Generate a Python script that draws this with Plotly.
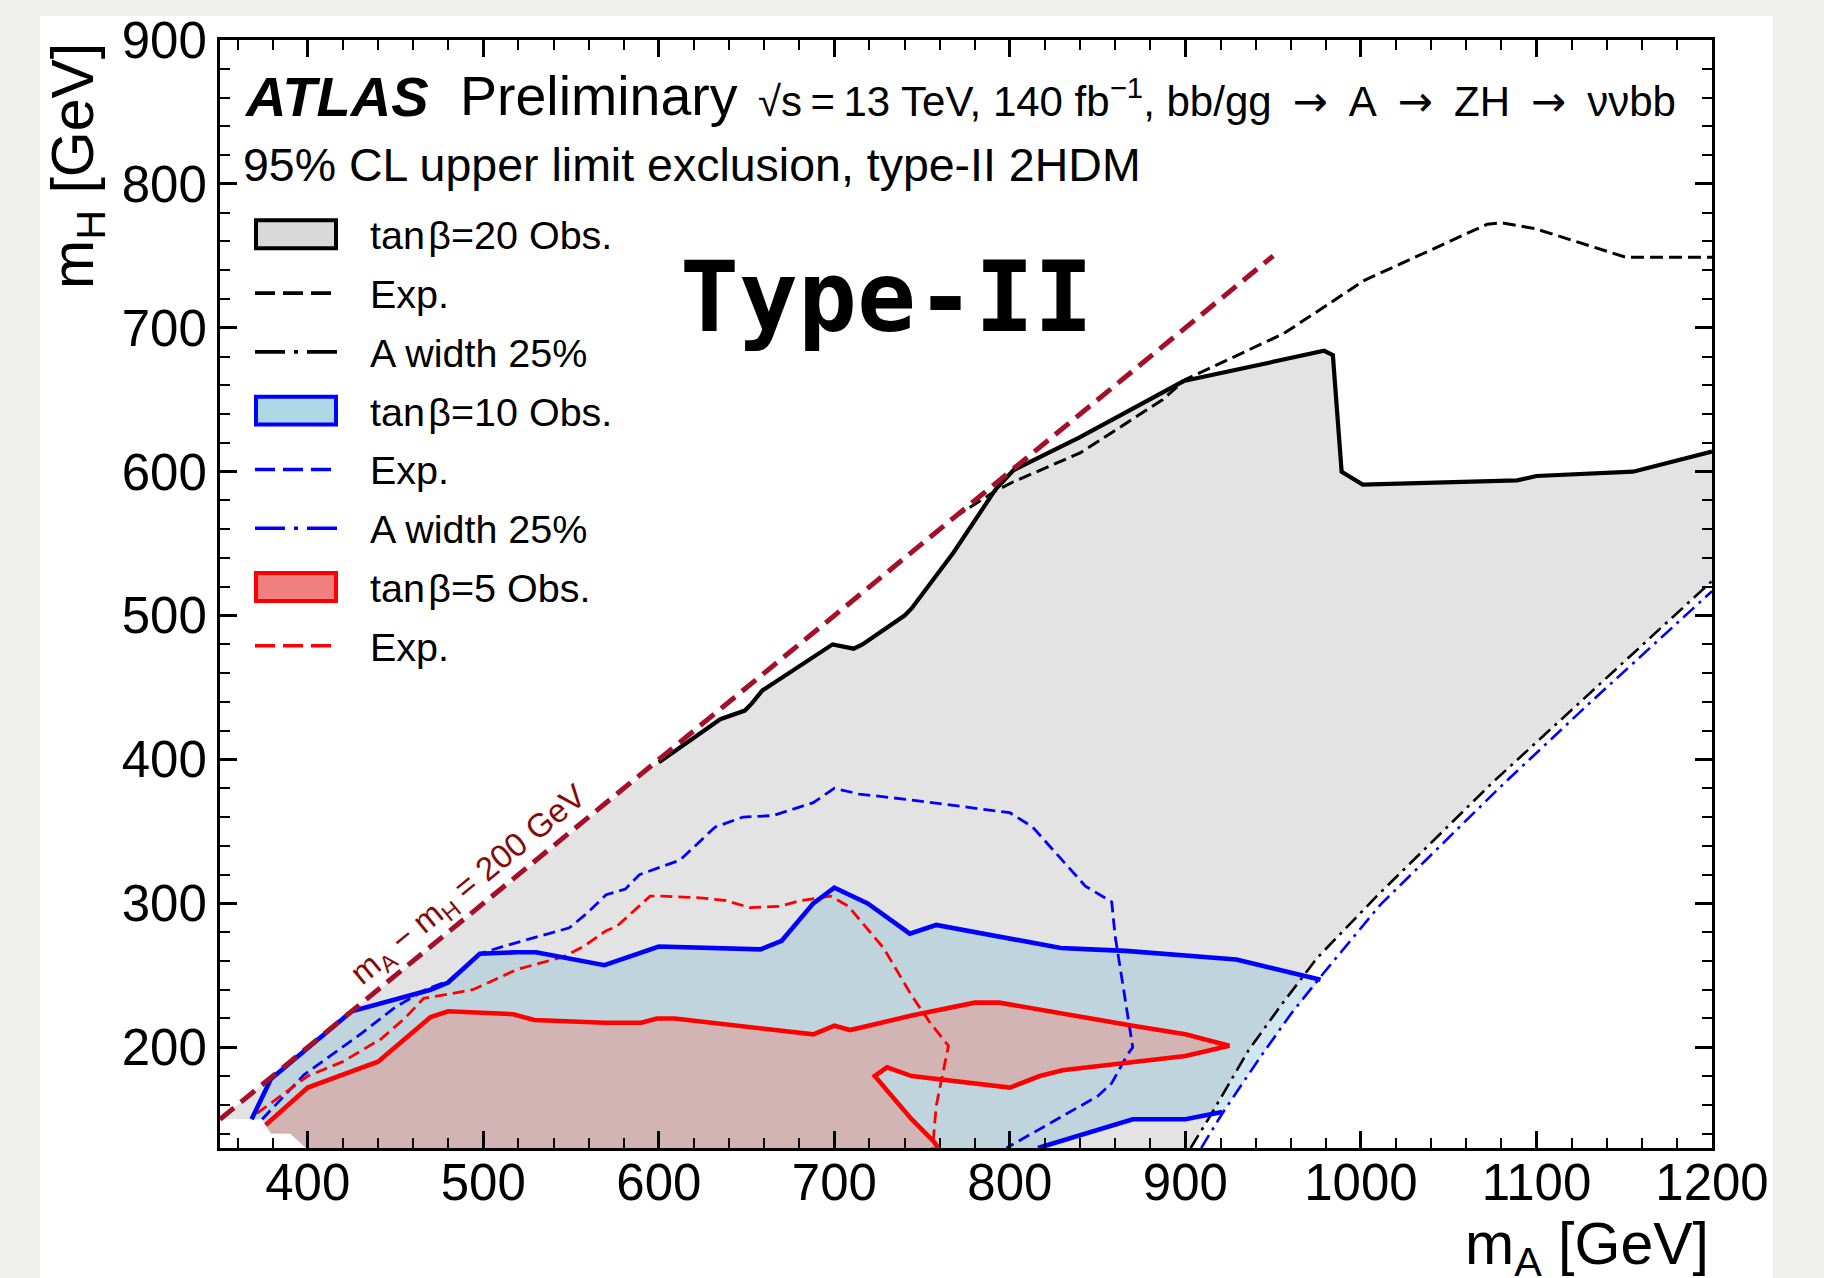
import plotly.graph_objects as go

# ---------------- data (GeV) ----------------
diag_x = [350, 950]
diag_y = [150, 750]

obs20_x = [600, 635, 649, 653, 659, 699, 711, 716, 740, 744, 768, 792, 802, 840, 899, 979, 984, 989, 1001, 1089, 1100, 1155, 1200]
obs20_y = [398, 428, 434, 439, 448, 480, 477, 480, 500, 505, 544, 588, 601, 624, 663, 684, 681, 600, 591, 594, 597, 600, 614]

exp20_x = [768, 791, 802, 817, 840, 887, 900, 956, 1002, 1072, 1080, 1099, 1151, 1200]
exp20_y = [568, 586, 593, 601, 613, 650, 664, 696, 733, 772, 773, 769, 749, 749]

w20_x = [903, 914, 936, 955, 975, 1009, 1075, 1125, 1200]
w20_y = [130, 152, 198, 230, 262, 305, 384, 440, 524]

w10_x = [909, 921, 942, 960, 979, 1011, 1082, 1131, 1200]
w10_y = [130, 154, 192, 223, 252, 299, 384, 440, 517]

obs10_up_x = [368, 379, 425, 470, 480, 498, 519, 530, 569, 600, 658, 670, 688, 700, 719, 743, 758, 829, 846, 866, 929, 977]
obs10_up_y = [150, 178, 225, 240, 245, 265, 266, 266, 257, 270, 268, 274, 300, 311, 300, 279, 285, 269, 268, 267, 261, 247]
obs10_lo_x = [921, 900, 870, 816]
obs10_lo_y = [155, 150, 150, 130]

exp10_x = [374, 398, 431, 450, 467, 480, 498, 511, 549, 559, 570, 581, 589, 612, 632, 648, 665, 688, 700, 714, 743, 800, 813, 843, 858, 860, 870, 867, 858, 850, 798]
exp10_y = [150, 181, 210, 228, 240, 246, 265, 270, 283, 293, 306, 310, 320, 330, 353, 360, 361, 370, 380, 376, 372, 363, 353, 312, 301, 277, 200, 195, 175, 166, 130]

obs5_x = [376, 400, 440, 470, 480, 499, 517, 529, 569, 590, 599, 609, 688, 700, 709, 744, 780, 794, 817, 870, 900, 910, 925, 900, 830, 817, 800, 744, 730, 723, 744, 757, 759]
obs5_y = [146, 172, 190, 221, 225, 224, 223, 219, 217, 217, 220, 220, 209, 215, 212, 222, 231, 231, 226, 215, 209, 206, 201, 194, 184, 180, 172, 180, 186, 180, 150, 134, 130]

exp5_x = [371, 400, 420, 442, 456, 466, 476, 494, 519, 546, 557, 570, 576, 595, 602, 622, 638, 652, 669, 681, 698, 708, 728, 744, 754, 765, 758, 756]
exp5_y = [154, 180, 190, 206, 221, 234, 236, 240, 254, 263, 270, 281, 284, 305, 305, 304, 302, 297, 298, 302, 305, 298, 269, 236, 218, 201, 159, 130]

# lower-left corner of the excluded regions (white notch)
notch_x = [399, 390, 379, 374]
notch_y = [130, 140, 140, 150]

x_ticks = [400, 500, 600, 700, 800, 900, 1000, 1100, 1200]
y_ticks = [200, 300, 400, 500, 600, 700, 800, 900]

legend_labels = ["tan\u200aβ=20 Obs.", "Exp.", "A width 25%", "tan\u200aβ=10 Obs.",
                 "Exp.", "A width 25%", "tan\u200aβ=5 Obs.", "Exp."]

# ---------------- geometry ----------------
W, H = 1824, 1278
ML, MR, MT, MB = 220, 112, 36, 130
PW, PH = W - ML - MR, H - MT - MB
FONT = "Liberation Sans, Arial, sans-serif"


def px(p):
    return (p - ML) / PW


def py(p):
    return (H - MB - p) / PH


GRAY = "rgb(227,227,227)"
BLUE_FILL = "rgba(137,189,216,0.38)"
RED_FILL = "rgb(211,180,180)"
DARKRED = "rgb(165,15,40)"

fig = go.Figure()

# gray region (tan beta = 20)
gx = [diag_x[0]] + obs20_x + w20_x[::-1] + notch_x
gy = [diag_y[0]] + obs20_y + w20_y[::-1] + notch_y
fig.add_trace(go.Scatter(x=gx, y=gy, fill="toself", fillcolor=GRAY, mode="lines",
                         line=dict(width=0), hoverinfo="skip", showlegend=False))

# blue region (tan beta = 10)
side = [(a, b) for a, b in zip(w10_x, w10_y) if obs10_lo_y[0] < b < obs10_up_y[-1]][::-1]
bx = obs10_up_x + [p[0] for p in side] + obs10_lo_x + notch_x
by = obs10_up_y + [p[1] for p in side] + obs10_lo_y + notch_y
fig.add_trace(go.Scatter(x=bx, y=by, fill="toself", fillcolor=BLUE_FILL, mode="lines",
                         line=dict(width=0), hoverinfo="skip", showlegend=False))

# red region (tan beta = 5)
rx = obs5_x + notch_x[:3]
ry = obs5_y + notch_y[:3]
fig.add_trace(go.Scatter(x=rx, y=ry, fill="toself", fillcolor=RED_FILL, mode="lines",
                         line=dict(width=0), hoverinfo="skip", showlegend=False))


def line(x, y, color, width, dash="solid"):
    fig.add_trace(go.Scatter(x=x, y=y, mode="lines", hoverinfo="skip", showlegend=False,
                             line=dict(color=color, width=width, dash=dash)))


DASHDOT = "15px,6px,3px,6px"
line(w20_x, w20_y, "black", 2.6, DASHDOT)
line(w10_x, w10_y, "blue", 2.6, DASHDOT)
line(exp20_x, exp20_y, "black", 3.0, "13px,6px")
line(exp10_x, exp10_y, "blue", 2.8, "12px,6px")
line(exp5_x, exp5_y, "red", 2.8, "12px,6px")
line(obs20_x, obs20_y, "black", 4.2)
line(obs10_up_x, obs10_up_y, "blue", 4.6)
line(obs10_lo_x, obs10_lo_y, "blue", 4.6)
line(obs5_x, obs5_y, "red", 4.6)
line(diag_x, diag_y, DARKRED, 5, "18px,9px")

# ---------------- annotations ----------------
ann = []


def text(t, x, y, size, xanchor="left", yanchor="middle", color="black", angle=0, family=FONT):
    ann.append(dict(text=t, x=px(x), y=py(y), xref="paper", yref="paper", showarrow=False,
                    xanchor=xanchor, yanchor=yanchor, textangle=angle,
                    font=dict(size=size, color=color, family=family)))


ARR = "\u2002<span style='font-family:DejaVu Sans'>→</span>\u2002"
text("<b><i>ATLAS</i></b>", 242, 112.5 + 0.212 * 56 + 1.5, 56, yanchor="bottom")
text("Preliminary", 458, 112.5 + 0.212 * 55.5 + 1.5, 55.5, yanchor="bottom")
text("√s\u2009=\u200913 TeV, 140 fb<sup>−1</sup>, bb/gg" + ARR + "A" + ARR + "ZH" + ARR + "ννbb",
     756, 113.5 + 0.212 * 42 + 1.5, 42, yanchor="bottom")
text("95% CL upper limit exclusion, type-II 2HDM", 241, 178.6 + 0.212 * 46.5 + 1.5, 46.5,
     yanchor="bottom")

# handwritten-style label
text("<b>Type-II</b>", 886, 294, 98, xanchor="center", family="DejaVu Sans Mono, monospace")

# diagonal label
ann.append(dict(text="m<sub>A</sub> − m<sub>H</sub> = 200 GeV", x=492, y=312, xref="x", yref="y",
                showarrow=False, xanchor="center", yanchor="middle", textangle=-39.45,
                font=dict(size=33, color="rgb(135,10,10)", family=FONT)))

# axis titles
text("m<sub>A</sub> [GeV]", 1711, 1209, 59, xanchor="right", yanchor="top")
text("m<sub>H</sub> [GeV]", 77, 37, 59, xanchor="center", yanchor="top", angle=-90)

# ---------------- manual legend ----------------
shapes = []
rows = [231, 290, 349, 408, 467, 526, 585, 644]
sw_x0, sw_x1 = 254, 338
swatches = {0: ("rgb(217,217,217)", "black"), 3: ("rgb(173,216,230)", "blue"), 6: ("rgb(240,128,128)", "red")}
lines = {1: ("black", "20px,8px"), 2: ("black", "30px,9px,4px,9px"),
         4: ("blue", "20px,8px"), 5: ("blue", "30px,9px,4px,9px"),
         7: ("red", "20px,8px")}
for i, yc in enumerate(rows):
    if i in swatches:
        fc, lc = swatches[i]
        shapes.append(dict(type="rect", xref="paper", yref="paper",
                           x0=px(sw_x0 + 2), x1=px(sw_x1 - 2), y0=py(yc + 14), y1=py(yc - 14),
                           fillcolor=fc, line=dict(color=lc, width=4)))
    else:
        lc, dash = lines[i]
        shapes.append(dict(type="line", xref="paper", yref="paper",
                           x0=px(sw_x0 + 1), x1=px(sw_x1 - 1), y0=py(yc), y1=py(yc),
                           line=dict(color=lc, width=3.6, dash=dash)))
    text(legend_labels[i], 368, yc + 1, 39.5)

# white page behind the figure
shapes.insert(0, dict(type="rect", xref="paper", yref="paper", layer="below",
                      x0=px(40), x1=px(1773), y0=py(H + 5), y1=py(12),
                      fillcolor="white", line=dict(width=0)))

axis_common = dict(showline=True, linewidth=3, linecolor="black", mirror="allticks",
                   ticks="inside", ticklen=17, tickwidth=2.5, tickcolor="black",
                   showgrid=False, zeroline=False,
                   tickfont=dict(size=51, family=FONT, color="black"),
                   minor=dict(ticks="inside", ticklen=10, tickwidth=2, tickcolor="black",
                              dtick=20, tick0=0, showgrid=False))

fig.update_layout(
    width=W, height=H,
    margin=dict(l=ML, r=MR, t=MT, b=MB, pad=0),
    paper_bgcolor="rgb(240,240,237)",
    plot_bgcolor="white",
    showlegend=False,
    xaxis=dict(range=[350, 1200], tickvals=x_ticks, ticklabelstandoff=-12, **axis_common),
    yaxis=dict(range=[130, 900], tickvals=y_ticks, **axis_common),
    annotations=ann,
    shapes=shapes,
)

fig.write_html("out.html")
